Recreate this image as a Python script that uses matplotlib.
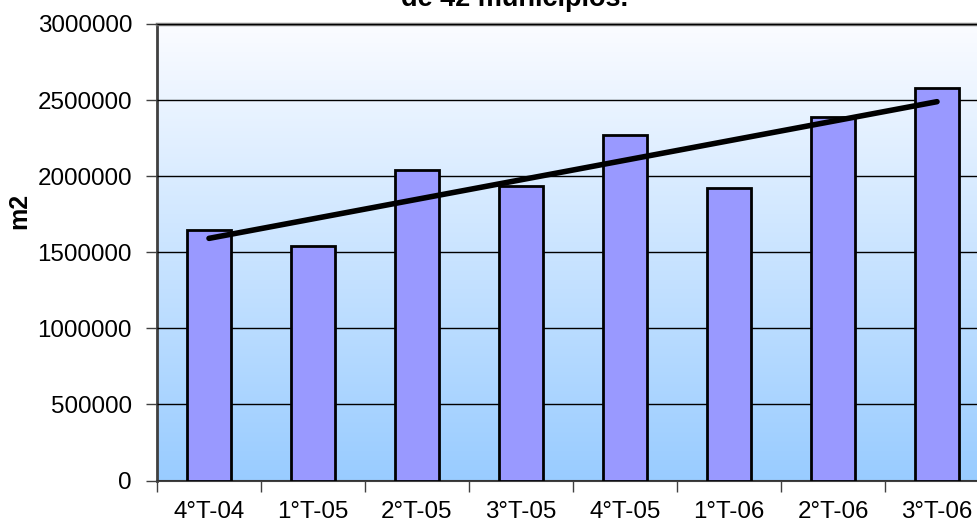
import numpy as np
import matplotlib
matplotlib.use('Agg')
from matplotlib import pyplot as plt
from matplotlib.colors import LinearSegmentedColormap

# quarters and surface (m2)
quarters = ['4°T-04', '1°T-05', '2°T-05', '3°T-05', '4°T-05', '1°T-06', '2°T-06', '3°T-06']
surface = [1645000, 1540000, 2040000, 1935000, 2270000, 1923000, 2390000, 2580000]

plt.rcParams['font.family'] = ['Liberation Sans', 'DejaVu Sans']

fig = plt.figure(figsize=(9.78, 5.24), dpi=100)
W, H = 978, 524
ax = fig.add_axes([157 / W, (H - 480.5) / H, 832 / W, 456.5 / H])

x = np.arange(len(quarters))

# gradient background, white on top to light blue at the bottom
grad = LinearSegmentedColormap.from_list('bg', ['#fbfcff', '#99ccff'])
ax.imshow(np.linspace(0, 1, 256).reshape(-1, 1), aspect='auto', cmap=grad,
          extent=[0, 1, 0, 1], transform=ax.transAxes, zorder=0)

ax.bar(x, surface, width=0.43, color='#9999ff', edgecolor='black', linewidth=2, zorder=3)

# linear trend line
coef = np.polyfit(x, surface, 1)
ax.plot(x, np.polyval(coef, x), color='black', linewidth=4, solid_capstyle='round', zorder=4)

ax.set_xlim(-0.5, len(quarters) - 0.5)
ax.set_ylim(0, 3000000)
ax.set_yticks(np.arange(0, 3000001, 500000))
ax.set_yticklabels([str(v) for v in range(0, 3000001, 500000)])
ax.grid(axis='y', color='black', linewidth=1, zorder=1)
ax.set_axisbelow(False)

ax.set_xticks(x)
ax.set_xticklabels(quarters)
ax.set_xticks(np.arange(-0.5, len(quarters)), minor=True)
ax.tick_params(axis='x', which='major', length=0, pad=15, labelsize=17.4)
ax.tick_params(axis='x', which='minor', length=8, width=1, color='#404040')
ax.tick_params(axis='y', length=8, width=1, color='#404040', pad=10, labelsize=17.4)

ax.spines['left'].set_color('#404040')
ax.spines['left'].set_linewidth(2)
ax.spines['bottom'].set_color('#404040')
ax.spines['bottom'].set_linewidth(1.5)
ax.spines['top'].set_color('#808080')
ax.spines['top'].set_linewidth(2.5)
ax.spines['right'].set_visible(False)

fig.text(19 / W, 1 - 211 / H, 'm2', rotation=90, fontsize=18, fontweight='bold',
         ha='center', va='center')
fig.text(515 / W, 1 - 6 / H, 'de 42 municipios.', fontsize=19.5, fontweight='bold',
         ha='center', va='baseline')

fig.savefig('out.png', dpi=100)
